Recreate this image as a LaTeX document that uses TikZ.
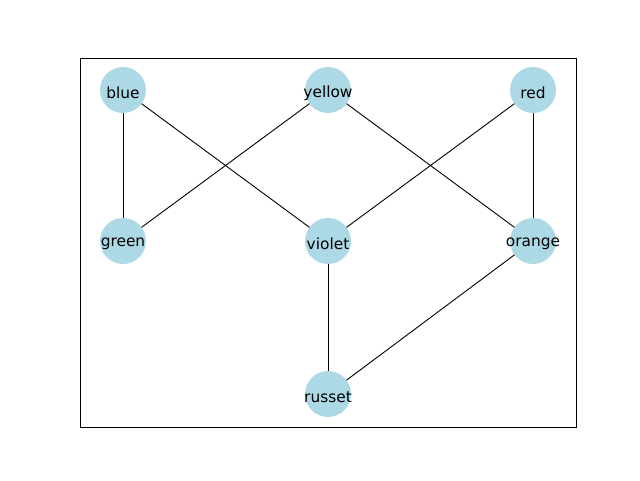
\documentclass[tikz,border=0pt]{standalone}
\usepackage{fontspec}
\setmainfont{DejaVu Sans}
\definecolor{lblue}{HTML}{ADD8E6}
\begin{document}
\begin{tikzpicture}[x=1pt,y=-1pt,
  vert/.style={circle,fill=lblue,draw=none,minimum size=46pt,inner sep=0pt,
    label={[font=\fontsize{15.4}{17}\selectfont,inner sep=0pt,anchor=base,yshift=-3pt]center:#1}},
  edge/.style={line width=0.9pt}]
\useasboundingbox (0,0) rectangle (640,480);
\draw[line width=0.8pt] (80,58) rectangle (576,427);
\coordinate (cblue) at (123,90);
\coordinate (cyellow) at (328,90);
\coordinate (cred) at (533,90);
\coordinate (cgreen) at (123,241);
\coordinate (cviolet) at (328,241);
\coordinate (corange) at (533,241);
\coordinate (crusset) at (328,394);
\draw[edge] (cblue) -- (cgreen);
\draw[edge] (cblue) -- (cviolet);
\draw[edge] (cyellow) -- (cgreen);
\draw[edge] (cyellow) -- (corange);
\draw[edge] (cred) -- (cviolet);
\draw[edge] (cred) -- (corange);
\draw[edge] (cviolet) -- (crusset);
\draw[edge] (corange) -- (crusset);
\node[vert=blue] (blue) at (cblue) {};
\node[vert=yellow] (yellow) at (cyellow) {};
\node[vert=red] (red) at (cred) {};
\node[vert=green] (green) at (cgreen) {};
\node[vert=violet] (violet) at (cviolet) {};
\node[vert=orange] (orange) at (corange) {};
\node[vert=russet] (russet) at (crusset) {};
\end{tikzpicture}
\end{document}
